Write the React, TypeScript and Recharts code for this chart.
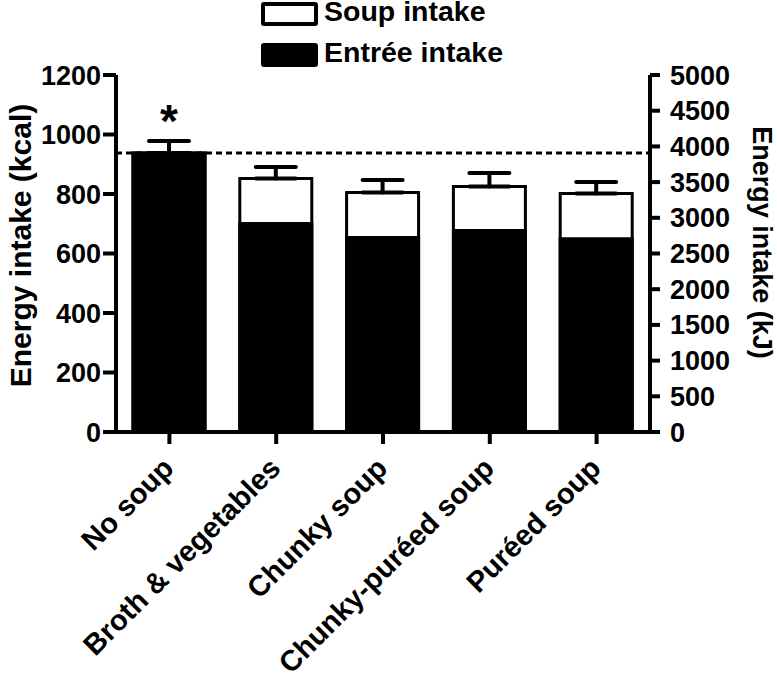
import { ComposedChart, Bar, XAxis, YAxis, ErrorBar, ReferenceLine, LabelList } from "recharts";

const FONT = "'Liberation Sans', Arial, Helvetica, sans-serif";
const INK = "#000";

const categories = ["No soup", "Broth & vegetables", "Chunky soup", "Chunky-puréed soup", "Puréed soup"];
// bar tops (soup + entrée) and the black entrée part, kcal
const total = [938, 852, 805, 825, 802];
const entree = [938, 701, 654, 677, 650];
const semUp = [40, 39, 42, 46, 38];
const sig = ["*", "", "", "", ""];
const noSoupMean = 938;
const kcalTicks = [0, 200, 400, 600, 800, 1000, 1200];
const kjTicks = [0, 500, 1000, 1500, 2000, 2500, 3000, 3500, 4000, 4500, 5000];

const data = categories.map((name, i) => ({ name, total: total[i], entree: entree[i], err: [0, semUp[i]], sig: sig[i] }));

const tickStyle = { fill: INK, fontSize: 27, fontWeight: 700, fontFamily: FONT };
const axisLn = { stroke: INK, strokeWidth: 4 };

function CatTick({ x, y, payload }: any) {
  const bx = x + 6, by = y + 24;
  return (
    <text x={bx} y={by} transform={`rotate(-45 ${bx} ${by})`} textAnchor="end" fill={INK} fontSize={29} fontWeight={700} fontFamily={FONT}>
      {payload.value}
    </text>
  );
}

function LegendBox() {
  const rows = [
    { label: "Soup intake", fill: "#fff", top: 2 },
    { label: "Entrée intake", fill: "#000", top: 43 },
  ];
  return (
    <div style={{ position: "absolute", left: 0, top: 0, width: 777, height: 75, fontFamily: FONT, fontWeight: 700, fontSize: 28.5, color: INK }}>
      {rows.map((r) => (
        <div key={r.label}>
          <div style={{ position: "absolute", left: 261, top: r.top, width: 57, height: 24, boxSizing: "border-box", border: "4px solid #000", borderRadius: 3, background: r.fill }} />
          <div style={{ position: "absolute", left: 324, top: r.top - 5, lineHeight: "28px", whiteSpace: "nowrap" }}>{r.label}</div>
        </div>
      ))}
    </div>
  );
}

function Star({ x, y, width, value }: any) {
  if (!value) return null;
  return (
    <text x={x + width / 2} y={y - 16} textAnchor="middle" fill={INK} fontSize={46} fontWeight={700} fontFamily={FONT}>
      {value}
    </text>
  );
}

function LeftTitle({ viewBox }: any) {
  const cx = viewBox.x + 20, cy = viewBox.y + viewBox.height / 2 - 8;
  return (
    <text x={cx} y={cy} transform={`rotate(-90 ${cx} ${cy})`} textAnchor="middle" dominantBaseline="central" fill={INK} fontSize={30} fontWeight={700} fontFamily={FONT}>
      Energy intake (kcal)
    </text>
  );
}

function RightTitle({ viewBox }: any) {
  const cx = viewBox.x + viewBox.width - 15, cy = viewBox.y + viewBox.height / 2 - 11;
  return (
    <text x={cx} y={cy} transform={`rotate(90 ${cx} ${cy})`} textAnchor="middle" dominantBaseline="central" fill={INK} fontSize={27} fontWeight={700} fontFamily={FONT}>
      Energy intake (kJ)
    </text>
  );
}

export default function App() {
  return (
    <div style={{ position: "absolute", left: 0, top: 0, width: 777, height: 677, background: "#fff" }}>
      <LegendBox />
      <ComposedChart width={777} height={677} data={data} margin={{ top: 75, right: 0, bottom: 0, left: 0 }} barCategoryGap={0}>
        <XAxis dataKey="name" height={245} interval={0} tick={<CatTick />} tickSize={12} tickMargin={2} axisLine={axisLn} tickLine={axisLn} />
        <XAxis xAxisId="over" dataKey="name" hide />
        <YAxis yAxisId="kcal" width={116} domain={[0, 1200]} ticks={kcalTicks} interval={0} tick={tickStyle} tickSize={13} tickMargin={2}
          axisLine={axisLn} tickLine={axisLn} label={<LeftTitle />} />
        <YAxis yAxisId="kj" orientation="right" width={127} type="number" domain={[0, 5000]} allowDataOverflow ticks={kjTicks} interval={0} tick={tickStyle}
          tickSize={10} tickMargin={10} axisLine={axisLn} tickLine={axisLn} label={<RightTitle />} />
        <ReferenceLine yAxisId="kcal" y={noSoupMean} stroke={INK} strokeWidth={3} strokeDasharray="6 4" />
        <Bar yAxisId="kcal" dataKey="total" barSize={72} fill="#fff" stroke="#000" strokeWidth={3} isAnimationActive={false}>
          <ErrorBar dataKey="err" direction="y" width={20} stroke={INK} strokeWidth={4} strokeLinecap="round" />
          <LabelList dataKey="sig" content={<Star />} />
        </Bar>
        <Bar yAxisId="kcal" xAxisId="over" dataKey="entree" barSize={72} fill="#000" stroke="#000" strokeWidth={3} isAnimationActive={false} />
      </ComposedChart>
    </div>
  );
}
